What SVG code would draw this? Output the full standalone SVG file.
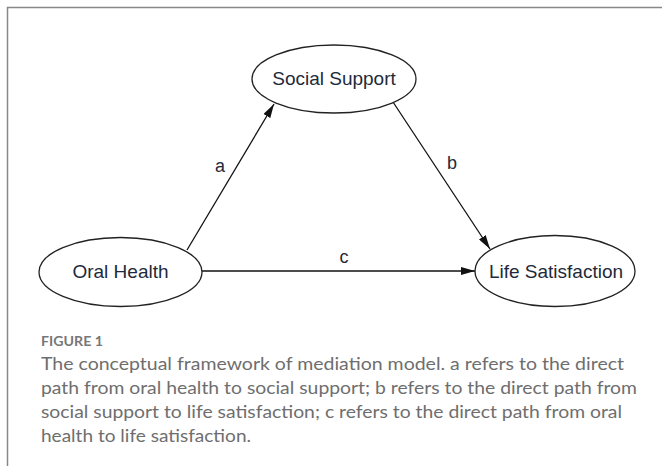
<svg xmlns="http://www.w3.org/2000/svg" width="662" height="466" viewBox="0 0 662 466">
<style>
.node ellipse{fill:#fff;stroke:#222;stroke-width:1.3}
.node text{font-family:"Liberation Sans",Arial,sans-serif;font-size:19px;fill:#1e2a3a;text-anchor:middle}
.edge{stroke:#111;stroke-width:1.3;fill:none;marker-end:url(#ah)}
.lbl{font-family:"Liberation Sans",Arial,sans-serif;font-size:18px;fill:#1e2a3a;text-anchor:middle}
.cap{font-family:Lato,"Open Sans",sans-serif;font-size:17px;fill:#6e6e6e}
.fig{font-family:Lato,"Open Sans",sans-serif;font-size:12.5px;fill:#777;font-weight:bold}
</style>
<defs>
<marker id="ah" viewBox="0 0 14 8" refX="14" refY="4" markerWidth="14" markerHeight="8" markerUnits="userSpaceOnUse" orient="auto">
<path d="M0,0 L14,4 L0,8 z" fill="#111"/>
</marker>
</defs>
<rect width="662" height="466" fill="#fff"/>
<path d="M7.5,466 V7.5 H662" fill="none" stroke="#888" stroke-width="1.5"/>
<g id="connectors">
<line class="edge" x1="187" y1="250" x2="274" y2="104"/>
<line class="edge" x1="393" y1="102" x2="490" y2="249"/>
<line class="edge" x1="202" y1="271" x2="475" y2="271"/>
<text class="lbl" x="220" y="172">a</text>
<text class="lbl" x="452" y="169">b</text>
<text class="lbl" x="344" y="263">c</text>
</g>
<g id="social-support" class="node">
<ellipse cx="334" cy="79" rx="82" ry="34"/>
<text x="334" y="85">Social Support</text>
</g>
<g id="oral-health" class="node">
<ellipse cx="120.5" cy="272" rx="81.5" ry="34.5"/>
<text x="120.5" y="278">Oral Health</text>
</g>
<g id="life-satisfaction" class="node">
<ellipse cx="555" cy="271" rx="80" ry="35.5"/>
<text x="556" y="278">Life Satisfaction</text>
</g>
<g id="caption">
<text class="fig" x="41" y="346" textLength="62" lengthAdjust="spacingAndGlyphs">FIGURE 1</text>
<text class="cap" x="41" y="370" textLength="583" lengthAdjust="spacingAndGlyphs">The conceptual framework of mediation model. a refers to the direct</text>
<text class="cap" x="41" y="394" textLength="596" lengthAdjust="spacingAndGlyphs">path from oral health to social support; b refers to the direct path from</text>
<text class="cap" x="41" y="418" textLength="581" lengthAdjust="spacingAndGlyphs">social support to life satisfaction; c refers to the direct path from oral</text>
<text class="cap" x="41" y="442" textLength="210" lengthAdjust="spacingAndGlyphs">health to life satisfaction.</text>
</g>
</svg>
